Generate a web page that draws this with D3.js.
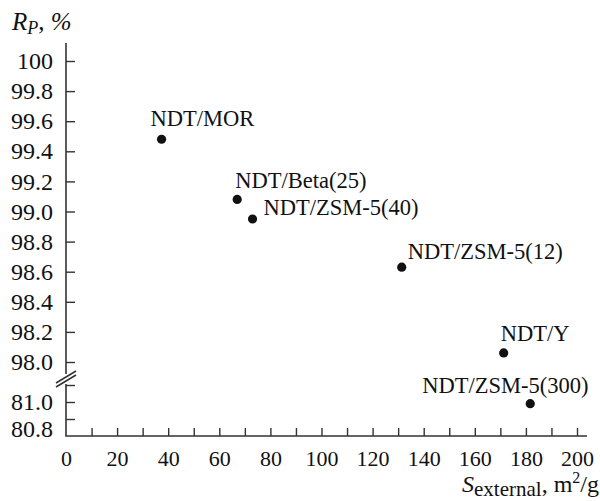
<!DOCTYPE html>
<html lang="en">
<head>
<meta charset="utf-8">
<title>R_P vs S_external</title>
<script src="https://cdn.jsdelivr.net/npm/d3@7"></script>
<style>
  body { margin: 0; background: #fff; }
  .tick line { stroke: #333; stroke-width: 1.4; }
  .axisline { stroke: #333; stroke-width: 1.6; fill: none; }
</style>
</head>
<body>
<script>
// data
var samples = ["NDT/MOR", "NDT/Beta(25)", "NDT/ZSM-5(40)", "NDT/ZSM-5(12)", "NDT/Y", "NDT/ZSM-5(300)"];
var sExternal = [37.4, 67.0, 73.0, 131.4, 171.3, 181.7];
var rp = [99.48, 99.08, 98.95, 98.63, 98.06, 80.99];

var xTicks = d3.range(0, 201, 10);
var upperTicks = [98.0, 98.2, 98.4, 98.6, 98.8, 99.0, 99.2, 99.4, 99.6, 99.8, 100];
var lowerTicks = [80.8, 80.9, 81.0, 81.1];
var lowerLabelled = [80.8, 81.0];

// label placement relative to the dot (dx, dy to baseline)
var labelOffsets = [[-11, -13], [-2, -11], [11, -4], [6, -8], [-3, -12], [-108, -11]];

var w = 600, h = 501;
var x0 = 66, xAxisY = 436;
var serif = "Liberation Serif";

var svg = d3.select("body").append("svg")
  .attr("width", w)
  .attr("height", h);

var x = d3.scaleLinear().domain([0, 200]).range([x0, 577]);
var yUp = d3.scaleLinear().domain([98, 100]).range([362, 61]);
var yLow = d3.scaleLinear().domain([80.8, 81.0]).range([xAxisY, 402]);

function y(v) { return v > 90 ? yUp(v) : yLow(v); }

// upper part of the broken y axis
var gUp = svg.append("g")
  .attr("transform", "translate(" + x0 + ",0)")
  .call(d3.axisLeft(yUp)
    .tickValues(upperTicks)
    .tickSizeInner(-9)
    .tickSizeOuter(0)
    .tickPadding(13)
    .tickFormat(function(d) { return d === 100 ? "100" : d3.format(".1f")(d); }));

// lower part
var gLow = svg.append("g")
  .attr("transform", "translate(" + x0 + ",0)")
  .call(d3.axisLeft(yLow)
    .tickValues(lowerTicks)
    .tickSizeInner(-9)
    .tickSizeOuter(0)
    .tickPadding(13)
    .tickFormat(function(d) {
      return lowerLabelled.indexOf(d) >= 0 ? d3.format(".1f")(d) : "";
    }));
gLow.selectAll(".tick").filter(function(d) { return d === 80.8; }).select("line").remove();
gLow.selectAll(".tick").filter(function(d) { return d === 80.8; }).select("text").attr("dy", "0em");

// x axis
var gx = svg.append("g")
  .attr("transform", "translate(0," + xAxisY + ")")
  .call(d3.axisBottom(x)
    .tickValues(xTicks)
    .tickSizeInner(-8)
    .tickSizeOuter(0)
    .tickPadding(14)
    .tickFormat(function(d) { return d % 20 === 0 ? d : ""; }));
gx.selectAll(".tick").filter(function(d) { return d === 0; }).select("line").remove();

[gUp, gLow, gx].forEach(function(g) {
  g.attr("font-family", serif);
  g.select(".domain").remove();
  g.selectAll("text").attr("fill", "#111");
});
gUp.attr("font-size", 24);
gLow.attr("font-size", 24);
gx.attr("font-size", 22);

// axis lines, with the break marks
svg.append("path").attr("class", "axisline")
  .attr("d", "M" + x0 + ",43V374");
svg.append("path").attr("class", "axisline")
  .attr("d", "M" + x0 + ",384V" + xAxisY + "H587");
svg.append("path").attr("class", "axisline")
  .attr("d", "M56,387L76,375M56,383L76,371");

// points
svg.selectAll("circle")
  .data(samples)
  .enter()
  .append("circle")
  .attr("cx", function(d, i) { return x(sExternal[i]); })
  .attr("cy", function(d, i) { return y(rp[i]); })
  .attr("r", 4.6)
  .attr("fill", "#111");

svg.selectAll("text.lbl")
  .data(samples)
  .enter()
  .append("text")
  .attr("class", "lbl")
  .attr("font-family", serif)
  .attr("x", function(d, i) { return x(sExternal[i]) + labelOffsets[i][0]; })
  .attr("y", function(d, i) { return y(rp[i]) + labelOffsets[i][1]; })
  .attr("font-size", 22.5)
  .attr("fill", "#111")
  .text(function(d) { return d; });

// axis titles
var yt = svg.append("text")
  .attr("font-family", serif)
  .attr("x", 12)
  .attr("y", 30)
  .attr("font-size", 25)
  .attr("fill", "#111");
yt.append("tspan").attr("font-style", "italic").text("R");
yt.append("tspan").attr("font-style", "italic").attr("font-size", 18).attr("dy", 4).text("P");
yt.append("tspan").attr("dy", -4).text(", ");
yt.append("tspan").attr("font-style", "italic").text("%");

var xt = svg.append("text")
  .attr("font-family", serif)
  .attr("x", 599)
  .attr("y", 492)
  .attr("text-anchor", "end")
  .attr("font-size", 24)
  .attr("fill", "#111");
xt.append("tspan").attr("font-style", "italic").text("S");
xt.append("tspan").attr("font-size", 21).attr("dy", 4).text("external");
xt.append("tspan").attr("dy", -4).text(", m");
xt.append("tspan").attr("font-size", 16).attr("dy", -9).text("2");
xt.append("tspan").attr("dy", 9).text("/g");
</script>
</body>
</html>
